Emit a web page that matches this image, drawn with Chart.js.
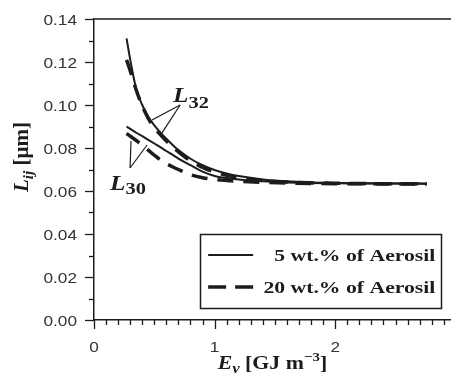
<!DOCTYPE html>
<html>
<head>
<meta charset="utf-8">
<script src="https://cdn.jsdelivr.net/npm/chart.js@4/dist/chart.umd.min.js"></script>
<style>
  html, body { margin: 0; padding: 0; background: #fff; }
</style>
</head>
<body>
<canvas id="myChart" width="451" height="374"></canvas>
<script>
// E_v values [GJ m^-3]
const energy = [0.27, 0.30, 0.35, 0.40, 0.45, 0.50, 0.55, 0.60, 0.65, 0.70, 0.80, 0.90,
  1.00, 1.10, 1.20, 1.40, 1.60, 1.80, 2.00, 2.20, 2.40, 2.60, 2.76];

// L32, 5 wt.% (solid)
const l32Aero5 = [0.1310, 0.1212, 0.1075, 0.1000, 0.0945, 0.0905, 0.0873, 0.0843, 0.0815, 0.0790,
  0.0750, 0.0720, 0.0698, 0.0682, 0.0670, 0.0654, 0.0645, 0.0640, 0.0637, 0.0636, 0.0635, 0.0635, 0.0634];
// L32, 20 wt.% (dashed)
const l32Aero20 = [0.1210, 0.1160, 0.1070, 0.0995, 0.0938, 0.0895, 0.0862, 0.0832, 0.0806, 0.0782,
  0.0740, 0.0710, 0.0688, 0.0673, 0.0662, 0.0649, 0.0642, 0.0638, 0.0636, 0.0635, 0.0634, 0.0634, 0.0633];
// L30, 5 wt.% (solid)
const l30Aero5 = [0.0899, 0.0889, 0.0871, 0.0855, 0.0838, 0.0821, 0.0804, 0.0786, 0.0769, 0.0751,
  0.0720, 0.0690, 0.0670, 0.0660, 0.0653, 0.0645, 0.0640, 0.0637, 0.0636, 0.0635, 0.0635, 0.0634, 0.0634];
// L30, 20 wt.% (dashed)
const l30Aero20 = [0.0868, 0.0855, 0.0835, 0.0813, 0.0790, 0.0767, 0.0745, 0.0727, 0.0713, 0.0700,
  0.0676, 0.0662, 0.0654, 0.0649, 0.0645, 0.0640, 0.0637, 0.0635, 0.0634, 0.0634, 0.0633, 0.0633, 0.0633];

const xTicks = [0, 1, 2];
const xTickLabels = ['0', '1', '2'];
const yTicks = [0, 0.02, 0.04, 0.06, 0.08, 0.10, 0.12, 0.14];
const yTickLabels = ['0.00', '0.02', '0.04', '0.06', '0.08', '0.10', '0.12', '0.14'];
const legendLabels = ['5 wt.% of Aerosil', '20 wt.% of Aerosil'];

// label anchors in data units: [x, y]
const l32Label = [0.656, 0.1014];
const l32Leaders = [[0.714, 0.1000], [0.481, 0.0930], [0.564, 0.0870]];
const l30Label = [0.133, 0.0605];
const l30Leaders = [[0.299, 0.0707], [0.307, 0.0833], [0.440, 0.0814]];

const INK = '#1c1c1c';
const SERIF = '"Liberation Serif", "Times New Roman", serif';
const SANS = '"Liberation Sans", Arial, sans-serif';
const STRETCH = 1.2;

const toXY = (ys) => ys.map((y, i) => ({ x: energy[i], y: y }));

// draws text made of pieces [text, font, dy], stretched horizontally
function richText(ctx, parts, x, y, align, sx) {
  ctx.save();
  let w = 0;
  parts.forEach(p => { ctx.font = p[1]; w += ctx.measureText(p[0]).width; });
  ctx.translate(x, y);
  ctx.scale(sx, 1);
  let cx = align === 'right' ? -w : (align === 'center' ? -w / 2 : 0);
  ctx.textBaseline = 'alphabetic';
  ctx.textAlign = 'left';
  parts.forEach(p => {
    ctx.font = p[1];
    ctx.fillText(p[0], cx, p[2] || 0);
    cx += ctx.measureText(p[0]).width;
  });
  ctx.restore();
}

const decorPlugin = {
  id: 'decor',
  afterDraw(chart) {
    const ctx = chart.ctx;
    const xs = chart.scales.x, ys = chart.scales.y;
    const area = chart.chartArea;
    ctx.save();
    ctx.strokeStyle = INK;
    ctx.fillStyle = INK;
    ctx.lineWidth = 1.5;

    // top frame line
    ctx.beginPath();
    ctx.moveTo(area.left, area.top);
    ctx.lineTo(area.right, area.top);
    ctx.stroke();

    // x ticks (every 0.1, major at integers)
    ctx.lineWidth = 1.3;
    for (let i = 0; i <= 29; i++) {
      const px = Math.round(xs.getPixelForValue(i / 10)) + 0.5;
      const len = i % 10 === 0 ? 9 : 5;
      ctx.beginPath();
      ctx.moveTo(px, area.bottom);
      ctx.lineTo(px, area.bottom + len);
      ctx.stroke();
    }
    // y ticks (every 0.01, major every 0.02)
    for (let i = 0; i <= 14; i++) {
      const py = Math.round(ys.getPixelForValue(i / 100)) + 0.5;
      const len = i % 2 === 0 ? 9 : 5;
      ctx.beginPath();
      ctx.moveTo(area.left - len, py);
      ctx.lineTo(area.left, py);
      ctx.stroke();
    }

    // tick labels
    ctx.fillStyle = '#333';
    xTicks.forEach((v, i) => {
      richText(ctx, [[xTickLabels[i], '15px ' + SANS, 0]], xs.getPixelForValue(v), area.bottom + 32, 'center', 1.15);
    });
    yTicks.forEach((v, i) => {
      richText(ctx, [[yTickLabels[i], '15px ' + SANS, 0]], area.left - 17, ys.getPixelForValue(v) + 5.5, 'right', 1.15);
    });
    ctx.fillStyle = INK;

    // leader lines
    ctx.lineWidth = 1.2;
    [l32Leaders, l30Leaders].forEach(ld => {
      const ax = xs.getPixelForValue(ld[0][0]), ay = ys.getPixelForValue(ld[0][1]);
      for (let k = 1; k < ld.length; k++) {
        ctx.beginPath();
        ctx.moveTo(ax, ay);
        ctx.lineTo(xs.getPixelForValue(ld[k][0]), ys.getPixelForValue(ld[k][1]));
        ctx.stroke();
      }
    });

    // curve labels
    richText(ctx, [['L', 'bold italic 21px ' + SERIF, 0], ['32', 'bold 17px ' + SERIF, 6]],
      xs.getPixelForValue(l32Label[0]), ys.getPixelForValue(l32Label[1]), 'left', STRETCH);
    richText(ctx, [['L', 'bold italic 21px ' + SERIF, 0], ['30', 'bold 17px ' + SERIF, 4]],
      xs.getPixelForValue(l30Label[0]), ys.getPixelForValue(l30Label[1]), 'left', STRETCH);

    // legend box
    const lx = xs.getPixelForValue(0.88), rx = xs.getPixelForValue(2.88);
    const ty = ys.getPixelForValue(0.040), by = ys.getPixelForValue(0.0057);
    ctx.lineWidth = 1.5;
    ctx.strokeRect(Math.round(lx) + 0.5, Math.round(ty) + 0.5, Math.round(rx - lx), Math.round(by - ty));
    const rowY = [ys.getPixelForValue(0.0302), ys.getPixelForValue(0.0153)];
    const lineX0 = lx + 8, lineX1 = lx + 53;
    ctx.beginPath();
    ctx.lineWidth = 2;
    ctx.moveTo(lineX0, rowY[0]);
    ctx.lineTo(lineX1, rowY[0]);
    ctx.stroke();
    ctx.beginPath();
    ctx.lineWidth = 3.5;
    ctx.setLineDash([18, 9]);
    ctx.moveTo(lineX0, rowY[1]);
    ctx.lineTo(lineX1, rowY[1]);
    ctx.stroke();
    ctx.setLineDash([]);
    legendLabels.forEach((t, i) => {
      richText(ctx, [[t, 'bold 17.5px ' + SERIF, 0]], rx - 6, rowY[i] + 6, 'right', 1.24);
    });

    // x title
    const xc = (area.left + area.right) / 2;
    richText(ctx, [
      ['E', 'bold italic 19px ' + SERIF, 0],
      ['v', 'bold italic 14px ' + SERIF, 4],
      [' [GJ m', 'bold 19px ' + SERIF, 0],
      ['\u22123', 'bold 13px ' + SERIF, -8],
      [']', 'bold 19px ' + SERIF, 0]
    ], xc, 369, 'center', 1.15);

    // y title (rotated)
    ctx.save();
    ctx.translate(28, 157);
    ctx.rotate(-Math.PI / 2);
    richText(ctx, [
      ['L', 'bold italic 21px ' + SERIF, 0],
      ['ij', 'bold italic 15px ' + SERIF, 5],
      [' [\u00b5m]', 'bold 21px ' + SERIF, 0]
    ], 0, 0, 'center', 1);
    ctx.restore();

    ctx.restore();
  }
};

const solidStyle = { borderColor: INK, borderWidth: 2, pointRadius: 0, fill: false, cubicInterpolationMode: 'monotone' };
const dashStyle = { borderColor: INK, borderWidth: 3.5, borderDash: [16, 10], pointRadius: 0, fill: false, cubicInterpolationMode: 'monotone' };

new Chart(document.getElementById('myChart'), {
  type: 'line',
  data: {
    datasets: [
      Object.assign({ label: 'L32 5 wt.%', data: toXY(l32Aero5) }, solidStyle),
      Object.assign({ label: 'L30 5 wt.%', data: toXY(l30Aero5) }, solidStyle),
      Object.assign({ label: 'L32 20 wt.%', data: toXY(l32Aero20) }, dashStyle),
      Object.assign({ label: 'L30 20 wt.%', data: toXY(l30Aero20) }, dashStyle)
    ]
  },
  options: {
    responsive: false,
    animation: false,
    devicePixelRatio: 1,
    layout: { padding: { top: 19, right: 0, left: 0, bottom: 0 } },
    plugins: { legend: { display: false }, tooltip: { enabled: false } },
    scales: {
      x: {
        type: 'linear',
        min: 0,
        max: 2.96,
        grid: { display: false, drawTicks: false },
        border: { display: true, color: INK, width: 1.5 },
        ticks: { display: false },
        afterFit: (s) => { s.height = 54; }
      },
      y: {
        min: 0,
        max: 0.14,
        grid: { display: false, drawTicks: false },
        border: { display: true, color: INK, width: 1.5 },
        ticks: { display: false },
        afterFit: (s) => { s.width = 94; }
      }
    }
  },
  plugins: [decorPlugin]
});
</script>
</body>
</html>
